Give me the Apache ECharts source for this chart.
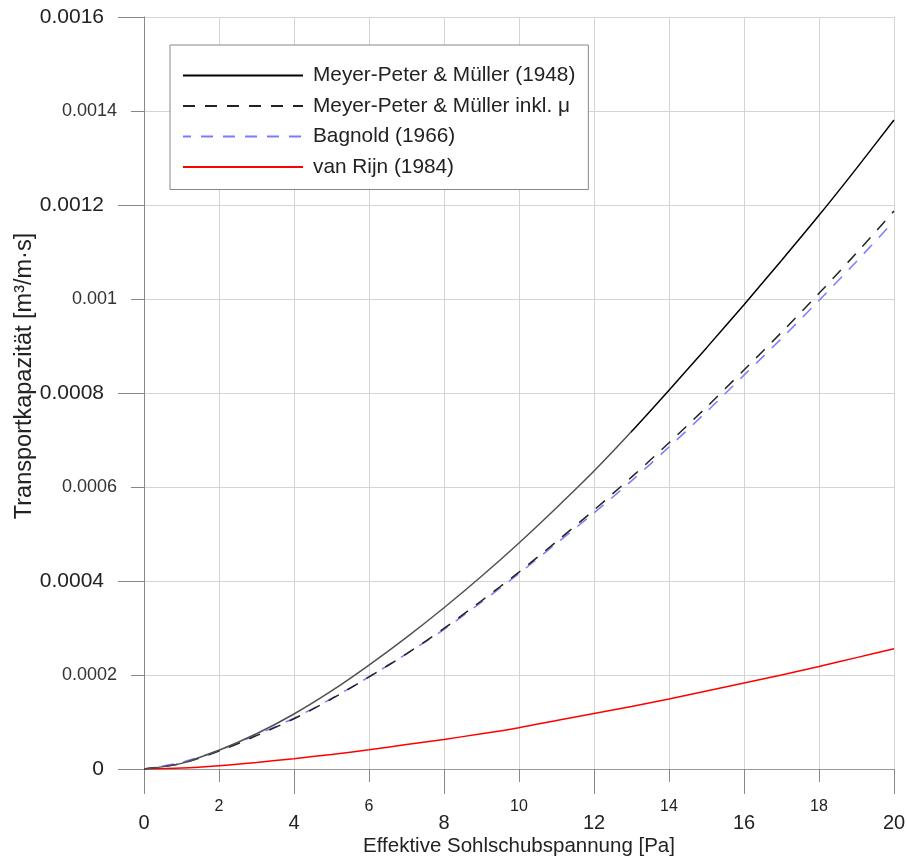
<!DOCTYPE html>
<html>
<head>
<meta charset="utf-8">
<script src="https://cdn.jsdelivr.net/npm/echarts@6/dist/echarts.min.js"></script>
<style>
  html, body { margin: 0; padding: 0; background: #fff; }
  #chart { width: 907px; height: 857px; }
</style>
</head>
<body>
<div id="chart"></div>
<script>
// Effective bed shear stress [Pa]
const shearStress = [0, 1, 2, 3, 4, 5, 6, 7, 8, 9, 10, 11, 12, 13, 14, 15, 16, 17, 18, 19, 20];

// Transport capacity [m³/m·s] per formula
const mpm1948 = [0, 0.000012, 0.000040, 0.000075, 0.000117, 0.000166, 0.000221, 0.000280, 0.000343, 0.000410, 0.000481, 0.000556, 0.000634, 0.000718, 0.000806, 0.000896, 0.000988, 0.001082, 0.001178, 0.001278, 0.001381];
const mpmMu = [0, 0.000012, 0.000038, 0.000071, 0.000107, 0.000149, 0.000196, 0.000245, 0.000299, 0.000358, 0.000419, 0.000484, 0.000551, 0.000621, 0.000694, 0.000770, 0.000849, 0.000929, 0.001012, 0.001098, 0.001187];
const bagnold = [0, 0.000014, 0.000040, 0.000073, 0.000108, 0.000150, 0.000196, 0.000245, 0.000297, 0.000355, 0.000416, 0.000480, 0.000545, 0.000613, 0.000685, 0.000760, 0.000838, 0.000916, 0.000997, 0.001080, 0.001166];
const vanRijn = [0, 0.000002, 0.000007, 0.000014, 0.000022, 0.000031, 0.000041, 0.000052, 0.000063, 0.000075, 0.000088, 0.000103, 0.000118, 0.000133, 0.000149, 0.000166, 0.000183, 0.000200, 0.000218, 0.000237, 0.000256];

const seriesNames = ['Meyer-Peter & Müller (1948)', 'Meyer-Peter & Müller inkl. μ', 'Bagnold (1966)', 'van Rijn (1984)'];

// Axis tick labels
const xTickLabels = ['0', '2', '4', '6', '8', '10', '12', '14', '16', '18', '20'];
const yTickLabels = ['0', '0.0002', '0.0004', '0.0006', '0.0008', '0.001', '0.0012', '0.0014', '0.0016'];

const FONT = '"Liberation Sans", Arial, sans-serif';
const pairs = (ys) => shearStress.map((x, i) => [x, ys[i]]);

// The 1948 curve is drawn grey up to 13 Pa and black beyond
const W = 907, GRID_L = 144, GRID_R = 13, X_MAX = 20, SWITCH_AT = 13;
const switchPx = GRID_L + (W - GRID_L - GRID_R) * SWITCH_AT / X_MAX;
const mpmStroke = {
  type: 'linear', x: 0, y: 0, x2: W, y2: 0, global: true,
  colorStops: [
    { offset: 0, color: '#505050' },
    { offset: switchPx / W, color: '#505050' },
    { offset: switchPx / W, color: '#000' },
    { offset: 1, color: '#000' }
  ]
};

const chart = echarts.init(document.getElementById('chart'), null, { renderer: 'canvas' });

chart.setOption({
  backgroundColor: '#fff',
  animation: false,
  textStyle: { fontFamily: FONT },
  grid: { left: GRID_L, right: GRID_R, top: 17, bottom: 88, containLabel: false, outerBoundsMode: 'none' },
  legend: {
    orient: 'vertical',
    left: 170,
    top: 45,
    padding: [20, 13, 12, 12],
    itemWidth: 120,
    itemHeight: 14,
    itemGap: 9.5,
    backgroundColor: '#fff',
    borderColor: '#888',
    borderWidth: 1,
    borderRadius: 0,
    itemStyle: { opacity: 0 },
    textStyle: { fontFamily: FONT, fontSize: 20.8, color: '#222', lineHeight: 20, padding: [0, 0, 0, 5] },
    data: [
      { name: seriesNames[0], lineStyle: { color: '#000' } },
      { name: seriesNames[1] },
      { name: seriesNames[2] },
      { name: seriesNames[3] }
    ]
  },
  xAxis: [
    {
      type: 'value',
      min: 0, max: X_MAX, interval: 2,
      name: 'Effektive Sohlschubspannung [Pa]',
      nameLocation: 'middle',
      nameGap: 67,
      nameMoveOverlap: false,
      nameTextStyle: { fontFamily: FONT, fontSize: 20.5, color: '#222' },
      axisLine: { onZero: false, lineStyle: { color: '#999', width: 1 } },
      axisTick: { length: 13, lineStyle: { color: '#888' } },
      splitLine: { show: true, lineStyle: { color: '#d4d4d4', width: 1 } },
      axisLabel: {
        margin: 30,
        formatter: (v) => {
          const i = Math.round(v / 2);
          return i % 2 === 0 ? '{a|' + xTickLabels[i] + '}' : '{b|' + xTickLabels[i] + '}';
        },
        rich: {
          a: { fontFamily: FONT, fontSize: 20, color: '#222', padding: [14, 0, 0, 0] },
          b: { fontFamily: FONT, fontSize: 16, color: '#222' }
        }
      }
    },
    {
      // longer ticks at every second step
      type: 'value',
      position: 'bottom',
      min: 0, max: X_MAX, interval: 4,
      axisLine: { show: false },
      axisTick: { length: 25, lineStyle: { color: '#888' } },
      axisLabel: { show: false },
      splitLine: { show: false }
    }
  ],
  yAxis: [
    {
      type: 'value',
      min: 0, max: 0.0016, interval: 0.0002,
      name: 'Transportkapazität [m³/m·s]',
      nameLocation: 'middle',
      nameGap: 107,
      nameRotate: 90,
      nameMoveOverlap: false,
      nameTextStyle: { fontFamily: FONT, fontSize: 23.5, color: '#222', padding: [0, 0, 0, 34] },
      axisLine: { show: true, onZero: false, lineStyle: { color: '#888', width: 1 } },
      axisTick: { show: true, length: 13, lineStyle: { color: '#888' } },
      splitLine: { show: true, lineStyle: { color: '#d4d4d4', width: 1 } },
      axisLabel: {
        margin: 27,
        formatter: (v) => {
          const i = Math.round(v / 0.0002);
          return i % 2 === 0 ? '{a|' + yTickLabels[i] + '}' : '{b|' + yTickLabels[i] + '}';
        },
        rich: {
          a: { fontFamily: FONT, fontSize: 21, color: '#222', padding: [0, 13, 0, 0] },
          b: { fontFamily: FONT, fontSize: 18, color: '#333' }
        }
      }
    },
    {
      // longer ticks at every second step
      type: 'value',
      position: 'left',
      min: 0, max: 0.0016, interval: 0.0004,
      axisLine: { show: false },
      axisTick: { show: true, length: 26, lineStyle: { color: '#888' } },
      axisLabel: { show: false },
      splitLine: { show: false }
    }
  ],
  series: [
    {
      name: seriesNames[0],
      type: 'line',
      data: pairs(mpm1948),
      smooth: 0.3,
      symbol: 'none',
      lineStyle: { color: mpmStroke, width: 1.5 },
      itemStyle: { color: '#000' },
      z: 4
    },
    {
      name: seriesNames[1],
      type: 'line',
      data: pairs(mpmMu),
      smooth: 0.3,
      symbol: 'none',
      lineStyle: { color: '#222', width: 1.5, type: [12, 10] },
      itemStyle: { color: '#222' },
      z: 3
    },
    {
      name: seriesNames[2],
      type: 'line',
      data: pairs(bagnold),
      smooth: 0.3,
      symbol: 'none',
      lineStyle: { color: '#7b7bff', width: 1.5, type: [12, 10], dashOffset: 4 },
      itemStyle: { color: '#7b7bff' },
      z: 2
    },
    {
      name: seriesNames[3],
      type: 'line',
      data: pairs(vanRijn),
      smooth: 0.3,
      symbol: 'none',
      lineStyle: { color: '#ff0000', width: 1.5 },
      itemStyle: { color: '#ff0000' },
      z: 2
    }
  ]
});
</script>
</body>
</html>
